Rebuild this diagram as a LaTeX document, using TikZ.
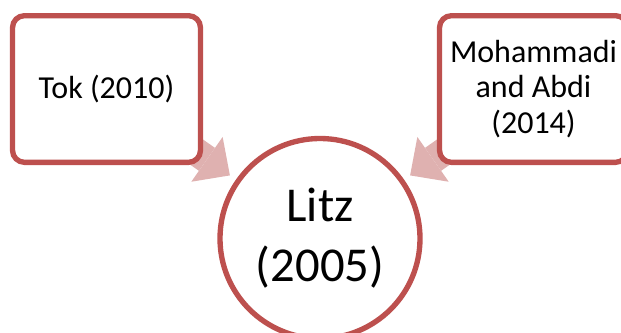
\documentclass[tikz,border=0pt]{standalone}
\usepackage{fontspec}
\setmainfont{Carlito}
\usetikzlibrary{arrows.meta, backgrounds}
\definecolor{boxred}{RGB}{189,80,78}
\definecolor{arrowpink}{RGB}{223,177,176}

\begin{document}
\begin{tikzpicture}[
    x=0.75pt, y=-0.75pt,
    refbox/.style={draw=boxred, line width=4pt, rectangle, rounded corners=9pt, minimum width=141pt, minimum height=110pt, align=center, fill=white, font=\fontsize{24}{26.5}\selectfont},
    studycircle/.style={draw=boxred, line width=4pt, circle, minimum size=150pt, inner sep=0pt, align=center, fill=white, font=\fontsize{36.5}{45}\selectfont},
    influence/.style={draw=arrowpink, line width=21pt, shorten >=5.5pt, -{Triangle[length=21pt, width=41pt, line width=0pt]}}
]
    \useasboundingbox (0,0) rectangle (621,332);

    % ================= SOURCES =================
    \node[refbox] (TOK) at (106.5, 89) {Tok (2010)};
    \node[refbox] (MOHAMMADI) at (533.5, 89) {Mohammadi\\and Abdi\\(2014)};

    % ================= CENTRE =================
    \node[studycircle] (LITZ) at (320, 238.5) {Litz\\(2005)};

    % ================= ARROWS =================
    \begin{pgfonlayer}{background}
    \draw[influence] (TOK.center) -- (LITZ);
    \draw[influence] (MOHAMMADI.center) -- (LITZ);
    \end{pgfonlayer}

\end{tikzpicture}
\end{document}
